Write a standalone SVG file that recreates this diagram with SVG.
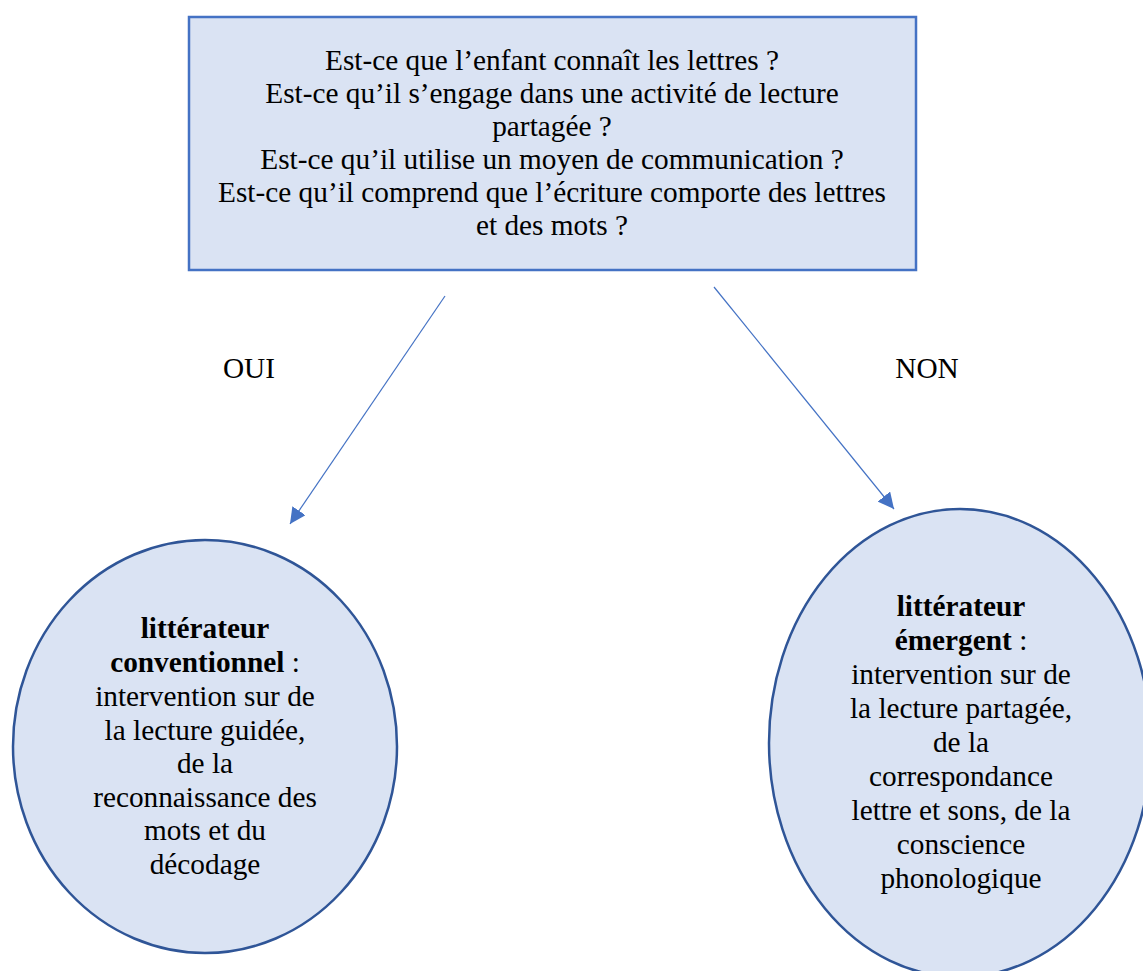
<svg xmlns="http://www.w3.org/2000/svg" width="1143" height="971" viewBox="0 0 1143 971">
<style>
  text { font-family: "Liberation Serif", "Times New Roman", serif; font-size: 29.3px; fill: #000; text-anchor: middle; }
  .b { font-weight: bold; }
  .conn { stroke: #4472C4; stroke-width: 1.2; fill: none; }
  .box { fill: #DAE3F3; stroke: #4472C4; stroke-width: 2.5; }
  .ell { fill: #DAE3F3; stroke: #2F5597; stroke-width: 2.5; }
</style>
<defs>
  <marker id="arr" viewBox="0 0 10 10" refX="10" refY="5" markerWidth="16" markerHeight="16" markerUnits="userSpaceOnUse" orient="auto">
    <path d="M0,0 L10,5 L0,10 z" fill="#4472C4"/>
  </marker>
</defs>
<rect width="1143" height="971" fill="#fff"/>
<g id="question">
  <rect class="box" x="189" y="17" width="727" height="253"/>
  <text x="552" y="70">Est-ce que l’enfant connaît les lettres ?</text>
  <text x="552" y="103">Est-ce qu’il s’engage dans une activité de lecture</text>
  <text x="552" y="136">partagée ?</text>
  <text x="552" y="169">Est-ce qu’il utilise un moyen de communication ?</text>
  <text x="552" y="202">Est-ce qu’il comprend que l’écriture comporte des lettres</text>
  <text x="552" y="235">et des mots ?</text>
</g>
<g id="connectors">
  <line class="conn" x1="445" y1="296" x2="290" y2="524" marker-end="url(#arr)"/>
  <line class="conn" x1="714" y1="287" x2="894" y2="509" marker-end="url(#arr)"/>
  <text x="249" y="378">OUI</text>
  <text x="927" y="378">NON</text>
</g>
<g id="conventionnel">
  <ellipse class="ell" cx="205" cy="746.5" rx="192" ry="206.5"/>
  <text x="205" y="638"><tspan class="b">littérateur</tspan></text>
  <text x="205" y="672"><tspan class="b">conventionnel</tspan> :</text>
  <text x="205" y="706">intervention sur de</text>
  <text x="205" y="740">la lecture guidée,</text>
  <text x="205" y="773">de la</text>
  <text x="205" y="807">reconnaissance des</text>
  <text x="205" y="840">mots et du</text>
  <text x="205" y="874">décodage</text>
</g>
<g id="emergent">
  <ellipse class="ell" cx="960" cy="743" rx="191" ry="234"/>
  <text x="961" y="616"><tspan class="b">littérateur</tspan></text>
  <text x="961" y="650"><tspan class="b">émergent</tspan> :</text>
  <text x="961" y="684">intervention sur de</text>
  <text x="961" y="718">la lecture partagée,</text>
  <text x="961" y="752">de la</text>
  <text x="961" y="786">correspondance</text>
  <text x="961" y="820">lettre et sons, de la</text>
  <text x="961" y="854">conscience</text>
  <text x="961" y="888">phonologique</text>
</g>
</svg>
